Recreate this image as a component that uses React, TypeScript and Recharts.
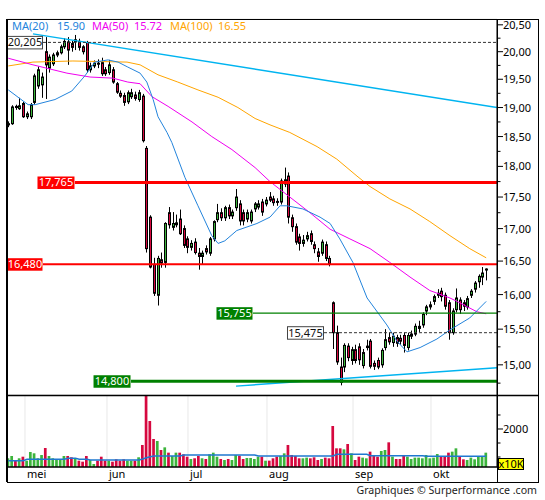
import React from 'react';
import { ComposedChart, Bar, Line, XAxis, YAxis, CartesianGrid, ReferenceLine } from 'recharts';

const FONT = '"Noto Sans", "DejaVu Sans", sans-serif';
const RED = '#d6083f';
const GREEN = '#3cb43c';
const MA20_COLOR = '#2384dc';
const MA50_COLOR = '#f000f0';
const MA100_COLOR = '#ffa500';
const TREND_COLOR = '#00b4f0';

// ---- daily candles (index 0 = first session shown) ----
const opens = [
  18.70, 18.72, 19.02, 18.98, 19.07, 18.84, 18.84, 19.09, 19.38, 19.40,
  20.00, 19.70, 19.78, 19.94, 19.98, 20.09, 20.18, 20.15, 20.18, 20.19,
  20.09, 20.17, 19.67, 19.74, 19.79, 19.80, 19.67, 19.62, 19.67, 19.42,
  19.25, 19.21, 19.10, 19.19, 19.22, 19.14, 19.20, 18.30, 17.18, 16.45,
  15.99, 16.52, 16.48, 17.25, 17.02, 17.06, 17.15, 17.00, 16.84, 16.71,
  16.79, 16.62, 16.57, 16.69, 16.62, 16.84, 17.14, 17.25, 17.17, 17.33,
  17.20, 17.33, 17.39, 17.25, 17.15, 17.12, 17.31, 17.34, 17.42, 17.39,
  17.50, 17.47, 17.43, 17.42, 17.71, 17.84, 17.17, 17.03, 16.87, 16.77,
  16.84, 16.92, 16.75, 16.64, 16.62, 16.75, 16.54, 15.88, 15.45, 14.97,
  14.97, 15.26, 15.06, 15.21, 15.25, 14.99, 15.24, 15.33, 15.02, 15.06,
  15.00, 15.24, 15.38, 15.31, 15.38, 15.37, 15.41, 15.24, 15.40, 15.43,
  15.51, 15.56, 15.76, 15.82, 15.90, 15.99, 16.05, 15.99, 15.88, 15.45,
  15.78, 15.92, 15.88, 15.82, 15.99, 16.08, 16.19, 16.26, 16.37,
];
const highs = [
  18.76, 19.04, 19.05, 19.17, 19.10, 18.93, 19.08, 19.60, 19.73, 19.62,
  20.27, 19.95, 19.98, 20.02, 20.13, 20.25, 20.27, 20.20, 20.31, 20.24,
  20.12, 20.20, 19.80, 19.84, 19.86, 19.89, 19.72, 19.85, 19.72, 19.45,
  19.30, 19.26, 19.30, 19.33, 19.28, 19.31, 19.24, 18.34, 17.21, 16.55,
  16.58, 16.63, 17.10, 17.34, 17.26, 17.22, 17.30, 17.05, 16.88, 16.82,
  16.85, 16.70, 16.66, 16.74, 16.87, 17.13, 17.39, 17.32, 17.36, 17.38,
  17.30, 17.63, 17.45, 17.30, 17.30, 17.30, 17.42, 17.45, 17.47, 17.50,
  17.58, 17.52, 17.48, 17.80, 17.98, 17.90, 17.22, 17.08, 16.92, 16.90,
  16.95, 16.97, 16.80, 16.70, 16.83, 16.80, 16.58, 15.90, 15.55, 15.10,
  15.30, 15.30, 15.25, 15.28, 15.30, 15.22, 15.35, 15.36, 15.06, 15.10,
  15.23, 15.50, 15.45, 15.45, 15.42, 15.42, 15.45, 15.45, 15.48, 15.58,
  15.62, 15.74, 15.85, 15.90, 16.00, 16.08, 16.10, 16.03, 15.92, 15.80,
  16.09, 15.96, 15.92, 15.98, 16.08, 16.20, 16.30, 16.41, 16.39,
];
const lows = [
  18.66, 18.70, 18.96, 18.96, 18.82, 18.80, 18.80, 19.05, 19.33, 19.17,
  19.15, 19.62, 19.74, 19.90, 19.95, 20.05, 19.76, 20.00, 20.03, 20.02,
  19.95, 19.62, 19.62, 19.70, 19.70, 19.56, 19.56, 19.58, 19.42, 19.24,
  19.17, 19.03, 19.06, 19.15, 19.12, 19.10, 18.40, 16.63, 16.39, 15.98,
  15.84, 16.40, 16.40, 17.00, 16.97, 17.02, 16.90, 16.70, 16.62, 16.66,
  16.60, 16.37, 16.45, 16.60, 16.58, 16.80, 17.10, 17.12, 17.12, 17.15,
  17.15, 17.28, 17.05, 17.05, 17.10, 17.08, 17.26, 17.30, 17.20, 17.35,
  17.42, 17.36, 17.36, 17.38, 17.66, 17.08, 16.95, 16.75, 16.66, 16.72,
  16.80, 16.75, 16.62, 16.49, 16.58, 16.50, 16.42, 15.22, 15.00, 14.72,
  14.90, 15.05, 15.00, 15.02, 15.00, 14.95, 15.20, 14.95, 14.93, 14.94,
  14.96, 15.20, 15.28, 15.25, 15.25, 15.28, 15.17, 15.20, 15.36, 15.40,
  15.46, 15.52, 15.70, 15.78, 15.85, 15.95, 15.90, 15.78, 15.35, 15.42,
  15.74, 15.72, 15.76, 15.78, 15.95, 16.03, 16.10, 16.14, 16.21,
];
const closes = [
  18.72, 19.01, 19.00, 19.03, 18.84, 18.89, 19.05, 19.56, 19.67, 19.54,
  19.76, 19.90, 19.94, 19.98, 20.09, 20.19, 20.03, 20.08, 20.22, 20.08,
  20.00, 19.67, 19.74, 19.79, 19.78, 19.60, 19.60, 19.76, 19.45, 19.27,
  19.20, 19.09, 19.26, 19.26, 19.16, 19.26, 18.43, 16.69, 16.41, 16.02,
  16.54, 16.47, 17.08, 17.06, 17.08, 17.09, 16.92, 16.74, 16.71, 16.77,
  16.63, 16.57, 16.62, 16.64, 16.84, 17.11, 17.25, 17.17, 17.33, 17.20,
  17.26, 17.50, 17.12, 17.12, 17.25, 17.26, 17.39, 17.39, 17.26, 17.45,
  17.45, 17.41, 17.42, 17.76, 17.78, 17.18, 17.03, 16.79, 16.77, 16.82,
  16.89, 16.80, 16.69, 16.57, 16.79, 16.54, 16.45, 15.45, 15.04, 14.76,
  15.27, 15.10, 15.21, 15.06, 15.07, 15.17, 15.26, 14.98, 14.98, 14.97,
  15.20, 15.35, 15.32, 15.40, 15.30, 15.33, 15.27, 15.41, 15.43, 15.54,
  15.54, 15.71, 15.82, 15.85, 15.97, 16.02, 15.97, 15.83, 15.45, 15.76,
  15.95, 15.78, 15.83, 15.94, 16.05, 16.17, 16.27, 16.32, 16.38,
];
// volume, in units of 10K shares
const volumes = [
  954, 1036, 868, 954, 1011, 868, 1179, 1132, 954, 1071,
  1321, 1036, 954, 918, 918, 1036, 1036, 990, 954, 868,
  833, 1036, 893, 750, 868, 1011, 868, 868, 833, 918,
  868, 918, 868, 868, 868, 990, 1429, 3179, 2286, 1643,
  1571, 1250, 1345, 1155, 1036, 1155, 1155, 1096, 1011, 929,
  954, 1036, 954, 929, 1096, 1155, 1011, 929, 893, 929,
  893, 1071, 1048, 929, 965, 965, 929, 1011, 1011, 868,
  870, 953, 1012, 1036, 1131, 1429, 1072, 1036, 953, 953,
  977, 953, 989, 893, 929, 977, 953, 2107, 1310, 1310,
  1274, 1464, 1131, 893, 1012, 977, 953, 1191, 1072, 1012,
  1215, 1250, 1524, 1012, 929, 929, 1072, 1012, 929, 977,
  977, 953, 1072, 953, 977, 1107, 1012, 1012, 1155, 1191,
  1310, 1012, 917, 893, 977, 917, 1012, 1012, 1155,
];
const volumeAvg = [
  868, 868, 868, 868, 868, 918, 918, 918, 918, 918,
  918, 918, 918, 918, 918, 918, 954, 954, 954, 918,
  918, 918, 893, 893, 893, 893, 893, 893, 893, 893,
  893, 893, 893, 893, 893, 893, 930, 975, 1011, 1036,
  1036, 1036, 1036, 1036, 1036, 1036, 1036, 1071, 1071, 1071,
  1071, 1071, 1071, 1071, 1071, 1071, 1071, 1071, 1071, 1071,
  1071, 1071, 1071, 1071, 1071, 1071, 1071, 1036, 1036, 1036,
  1036, 1036, 1036, 1036, 1036, 1036, 1036, 1036, 1036, 1036,
  1036, 1036, 1036, 1036, 1036, 1036, 1036, 1036, 1096, 1096,
  1096, 1096, 1096, 1096, 1096, 1096, 1096, 1048, 1048, 1048,
  1048, 1048, 1048, 1048, 1048, 1048, 1048, 1048, 1048, 1048,
  1048, 1048, 1024, 1024, 1024, 1024, 1024, 1024, 1024, 1024,
  1024, 1024, 1024, 1024, 1024, 1024, 1024, 1024, 1024,
];

// moving averages: [session index, value]
const ma20Points = [
  [0, 19.31], [5.3, 19.05], [7.2, 19.05], [12.5, 19.14], [17, 19.29], [20.5, 19.56],
  [23.2, 19.81], [26.7, 19.85], [29.4, 19.81], [32, 19.72], [35.3, 19.61], [37.1, 19.45],
  [38.8, 19.14], [40.1, 18.84], [42.5, 18.57], [43.8, 18.4], [47.3, 17.82], [50.8, 17.36],
  [54.5, 16.89], [56.2, 16.77], [58, 16.81], [61.2, 16.97], [66.6, 17.08], [70.1, 17.18],
  [72.8, 17.36], [74.6, 17.36], [78.9, 17.31], [83.5, 17.18], [86.2, 17.08], [88.8, 16.84],
  [92.3, 16.48], [96.1, 15.95], [101.4, 15.56], [104.1, 15.33], [106.8, 15.18], [110.3, 15.24],
  [114.8, 15.36], [118.3, 15.49], [123.6, 15.66], [128, 15.9],
];
const ma50Points = [
  [0, 19.88], [6.6, 19.76], [15.7, 19.61], [21.9, 19.54], [28, 19.52], [32, 19.45],
  [35.3, 19.42], [38.5, 19.19], [42.8, 19.02], [49.2, 18.75], [54.5, 18.5], [59.9, 18.28],
  [66.1, 17.98], [70.1, 17.75], [75.4, 17.5], [80.8, 17.25], [86.2, 16.99], [91.5, 16.84],
  [96.9, 16.69], [102.2, 16.48], [107.6, 16.26], [112.9, 16.06], [118.3, 15.95], [120.2, 15.9],
  [125.5, 15.75], [128, 15.72],
];
const ma100Points = [
  [0, 19.74], [6.6, 19.81], [17.3, 19.83], [31.8, 19.81], [35.3, 19.76], [40.1, 19.58],
  [45.4, 19.45], [50.8, 19.31], [56.2, 19.18], [61.5, 19.0], [66.1, 18.81], [70.1, 18.7],
  [75.4, 18.57], [82.7, 18.33], [88, 18.12], [93.4, 17.84], [96.9, 17.67], [102.2, 17.47],
  [107.6, 17.31], [112.9, 17.11], [118.3, 16.89], [123.6, 16.69], [128, 16.55],
];
const trendHighPoints = [[6.6, 20.33], [130.9, 19.0]];
const trendLowPoints = [[61, 14.71], [130.9, 14.96]];

// horizontal levels
const levelValues = [20.205, 17.765, 16.48, 15.755, 15.475, 14.8];
const levelTexts = ['20,205', '17,765', '16,480', '15,755', '15,475', '14,800'];

// axes
const monthTicks = [4.47, 26.43, 48.13, 69.29, 92.33, 113.22];
const monthLabels = ['mei', 'jun', 'jul', 'aug', 'sep', 'okt'];
const priceTicks = [14.75, 15, 15.25, 15.5, 15.75, 16, 16.25, 16.5, 16.75, 17, 17.25, 17.5, 17.75, 18, 18.25, 18.5, 18.75, 19, 19.25, 19.5, 19.75, 20, 20.25, 20.5];
const priceMajorTicks = [15, 15.5, 16, 16.5, 17, 17.5, 18, 18.5, 19, 19.5, 20, 20.5];
const volumeTicks = [1000, 1500, 2000, 2500];
const volumeMajorTicks = [2000];
const legendItems = [
  { label: 'MA(20)', value: '15.90' },
  { label: 'MA(50)', value: '15.72' },
  { label: 'MA(100)', value: '16.55' },
];

// ---- layout / styles ----
const X_MIN = -0.35;
const X_MAX = 130.9;
const PRICE_DOMAIN: [number, number] = [14.59, 20.61];
const VOLUME_DOMAIN: [number, number] = [643, 3214];
const LEVEL_DY = 1.8;
const levelStyles = [
  { from: 9.29, stroke: '#333', width: 1, dash: '3 2', box: 36, bg: '#fff', fg: '#111', border: '#444' },
  { from: 17.86, stroke: '#ff0000', width: 3, dash: undefined, box: 38, bg: '#ff0000', fg: '#fff', border: 'none' },
  { from: 9.29, stroke: '#ff0000', width: 2, dash: undefined, box: 36, bg: '#ff0000', fg: '#fff', border: 'none' },
  { from: 65.54, stroke: '#008000', width: 1.3, dash: undefined, box: 37, bg: '#008000', fg: '#fff', border: 'none' },
  { from: 84.56, stroke: '#333', width: 1, dash: '3 2', box: 37, bg: '#fff', fg: '#111', border: '#444' },
  { from: 32.87, stroke: '#008000', width: 3, dash: undefined, box: 38, bg: '#008000', fg: '#fff', border: 'none' },
];
const legendX = [[12, 57], [92, 134], [170, 218]];
const legendColors = [MA20_COLOR, MA50_COLOR, MA100_COLOR];

const candles = opens.map((o, i) => ({
  i, open: o, high: highs[i], low: lows[i], close: closes[i], range: [lows[i], highs[i]],
}));
const volumeData = volumes.map((v, i) => ({ i, vol: v, avg: volumeAvg[i], up: closes[i] >= opens[i] }));
const toPts = (arr: number[][]) => arr.map(([i, v]) => ({ i, v }));

const Candle = (props: any) => {
  const { x, y, width, height, payload } = props;
  if (x == null || y == null || !payload) return null;
  const cx = Math.round(x + width / 2);
  const top = Math.min(y, y + height);
  const h = Math.abs(height);
  const lh = Math.log(payload.high);
  const ll = Math.log(payload.low);
  const toY = (p: number) => top + ((lh - Math.log(p)) / (lh - ll)) * h;
  const yo = toY(payload.open);
  const yc = toY(payload.close);
  const up = payload.close >= payload.open;
  const bTop = Math.min(yo, yc);
  const bH = Math.max(Math.abs(yc - yo), 1);
  return (
    <g>
      <line x1={cx + 0.5} x2={cx + 0.5} y1={top} y2={top + h} stroke="#000" strokeWidth={1} />
      <rect x={cx - 0.5} y={bTop} width={2} height={bH} fill={up ? GREEN : RED} stroke="#000" strokeWidth={1} />
    </g>
  );
};

const VolBar = (props: any) => {
  const { x, y, width, height, payload } = props;
  if (x == null || y == null || !payload) return null;
  const cx = x + width / 2;
  return <rect x={cx - 1.35} y={Math.min(y, y + height)} width={2.7} height={Math.abs(height)} fill={payload.up ? GREEN : RED} />;
};

const PriceTick = (props: any) => {
  const { x, y, payload } = props;
  const v = payload.value as number;
  const major = priceMajorTicks.includes(v);
  return (
    <g>
      <line x1={x} x2={x + (major ? 6 : 3.5)} y1={y} y2={y} stroke="#000" />
      {major && (
        <text x={x + 6} y={y + 4} fontSize={11} fontFamily={FONT} fill="#000">
          {v.toFixed(2).replace('.', ',')}
        </text>
      )}
    </g>
  );
};

const VolTick = (props: any) => {
  const { x, y, payload } = props;
  const v = payload.value as number;
  const major = volumeMajorTicks.includes(v);
  return (
    <g>
      <line x1={x} x2={x + (major ? 6 : 3.5)} y1={y} y2={y} stroke="#000" />
      {major && (
        <text x={x + 6} y={y + 4} fontSize={11} fontFamily={FONT} fill="#000">
          {String(v)}
        </text>
      )}
    </g>
  );
};

const MonthTick = (props: any) => {
  const { x, y, payload } = props;
  const idx = monthTicks.indexOf(payload.value);
  return (
    <text x={x + 2} y={y + 11} fontSize={11} fontFamily={FONT} fill="#000">
      {monthLabels[idx] ?? ''}
    </text>
  );
};

const LevelLine = (props: any) => {
  const { x1, y1, x2, y2, stroke, strokeWidth, strokeDasharray } = props;
  if (x1 == null || y1 == null) return null;
  return (
    <line x1={x1} y1={y1 + LEVEL_DY} x2={x2} y2={y2 + LEVEL_DY} stroke={stroke} strokeWidth={strokeWidth} strokeDasharray={strokeDasharray} />
  );
};

const LevelLabel = (props: any) => {
  const { viewBox, text, bg, fg, border, w } = props;
  if (!viewBox) return null;
  const x = viewBox.x;
  const y = viewBox.y + LEVEL_DY;
  return (
    <g>
      <rect x={x - w + 0.5} y={y - 6} width={w - 1} height={12.5} fill={bg} stroke={border} strokeWidth={1} />
      <text x={x - w / 2} y={y + 4} textAnchor="middle" fill={fg} fontSize={11} fontFamily={FONT}>
        {text}
      </text>
    </g>
  );
};

export default function App() {
  return (
    <div style={{ position: 'absolute', left: 0, top: 0, width: 545, height: 500, background: '#fff' }}>
      <div style={{ position: 'absolute', left: 0, top: 0 }}>
        <ComposedChart width={545} height={400} data={candles} margin={{ top: 19, right: 7, bottom: 5, left: 7 }}>
          <CartesianGrid yAxisId="grid" stroke="#e8e8e8" strokeWidth={1} />
          <XAxis
            dataKey="i" type="number" domain={[X_MIN, X_MAX]} allowDataOverflow ticks={monthTicks} interval={0}
            tick={false} tickLine={false} axisLine={false} height={0}
          />
          <YAxis
            yAxisId="grid" orientation="left" scale="log" type="number" domain={PRICE_DOMAIN} allowDataOverflow
            ticks={priceMajorTicks} interval={0} width={0} tick={false} tickLine={false} axisLine={false}
          />
          <YAxis
            yAxisId="price" orientation="right" scale="log" type="number" domain={PRICE_DOMAIN} allowDataOverflow
            ticks={priceTicks} interval={0} width={41} tick={<PriceTick />} tickLine={false} tickSize={0} tickMargin={0}
            axisLine={{ stroke: '#000' }}
          />
          <Bar yAxisId="price" dataKey="range" barSize={3} shape={<Candle />} isAnimationActive={false} />
          <Line yAxisId="price" data={toPts(trendHighPoints)} dataKey="v" type="linear" stroke={TREND_COLOR} strokeWidth={1.4} dot={false} activeDot={false} isAnimationActive={false} />
          <Line yAxisId="price" data={toPts(trendLowPoints)} dataKey="v" type="linear" stroke={TREND_COLOR} strokeWidth={1.4} dot={false} activeDot={false} isAnimationActive={false} />
          <Line yAxisId="price" data={toPts(ma100Points)} dataKey="v" type="linear" stroke={MA100_COLOR} strokeWidth={1} dot={false} activeDot={false} isAnimationActive={false} />
          <Line yAxisId="price" data={toPts(ma50Points)} dataKey="v" type="linear" stroke={MA50_COLOR} strokeWidth={1} dot={false} activeDot={false} isAnimationActive={false} />
          <Line yAxisId="price" data={toPts(ma20Points)} dataKey="v" type="linear" stroke={MA20_COLOR} strokeWidth={1} dot={false} activeDot={false} isAnimationActive={false} />
          {levelValues.map((v, k) => {
            const s = levelStyles[k];
            return (
              <ReferenceLine
                key={k}
                yAxisId="price"
                segment={[{ x: s.from, y: v }, { x: X_MAX, y: v }]}
                stroke={s.stroke}
                strokeWidth={s.width}
                strokeDasharray={s.dash}
                ifOverflow="extendDomain"
                shape={<LevelLine />}
                label={<LevelLabel text={levelTexts[k]} bg={s.bg} fg={s.fg} border={s.border} w={s.box} />}
              />
            );
          })}
        </ComposedChart>
      </div>
      <div style={{ position: 'absolute', left: 0, top: 395 }}>
        <ComposedChart width={545} height={87} data={volumeData} margin={{ top: 0, right: 7, bottom: 0, left: 7 }}>
          <CartesianGrid yAxisId="vgrid" stroke="#e8e8e8" strokeWidth={1} />
          <XAxis
            dataKey="i" type="number" domain={[X_MIN, X_MAX]} allowDataOverflow ticks={monthTicks} interval={0}
            tick={<MonthTick />} tickLine={false} tickSize={0} tickMargin={0} axisLine={{ stroke: '#000', strokeWidth: 1.5 }} height={15}
          />
          <YAxis
            yAxisId="vgrid" orientation="left" type="number" domain={VOLUME_DOMAIN} allowDataOverflow
            ticks={volumeMajorTicks} interval={0} width={0} tick={false} tickLine={false} axisLine={false}
          />
          <YAxis
            yAxisId="vol" orientation="right" type="number" domain={VOLUME_DOMAIN} allowDataOverflow
            ticks={volumeTicks} interval={0} width={41} tick={<VolTick />} tickLine={false} tickSize={0} tickMargin={0}
            axisLine={{ stroke: '#000' }}
          />
          <Bar yAxisId="vol" dataKey="vol" barSize={3} shape={<VolBar />} isAnimationActive={false} />
          <Line yAxisId="vol" dataKey="avg" type="linear" stroke="#1f78d0" strokeWidth={1.5} dot={false} activeDot={false} isAnimationActive={false} />
        </ComposedChart>
      </div>
      <svg width={545} height={500} style={{ position: 'absolute', left: 0, top: 0, pointerEvents: 'none' }}>
        {legendItems.map((it, k) => (
          <g key={k}>
            <text x={legendX[k][0]} y={30} fontSize={11} fontFamily={FONT} fill={legendColors[k]}>{it.label}</text>
            <text x={legendX[k][1]} y={30} fontSize={11} fontFamily={FONT} fill={legendColors[k]}>{it.value}</text>
          </g>
        ))}
        <line x1={7} x2={7} y1={19} y2={482} stroke="#000" strokeWidth={2} />
        <line x1={7} x2={539} y1={19.5} y2={19.5} stroke="#000" strokeWidth={1} />
        <line x1={538.5} x2={538.5} y1={19} y2={483} stroke="#000" strokeWidth={1} />
        <line x1={7} x2={539} y1={482.5} y2={482.5} stroke="#000" strokeWidth={1} />
        <line x1={7} x2={539} y1={395.5} y2={395.5} stroke="#000" strokeWidth={1.5} />
        <line x1={497.5} x2={497.5} y1={19} y2={483} stroke="#000" strokeWidth={1} />
        <rect x={498.5} y={458.5} width={25} height={11} fill="#ffff00" stroke="#000" strokeWidth={1} />
        <text x={511} y={468} textAnchor="middle" fontSize={11} fontFamily={FONT} fill="#000">x10K</text>
        <text x={537} y={494} textAnchor="end" fontSize={10.6} fontFamily={FONT} fill="#222">Graphiques © Surperformance .com</text>
      </svg>
    </div>
  );
}
